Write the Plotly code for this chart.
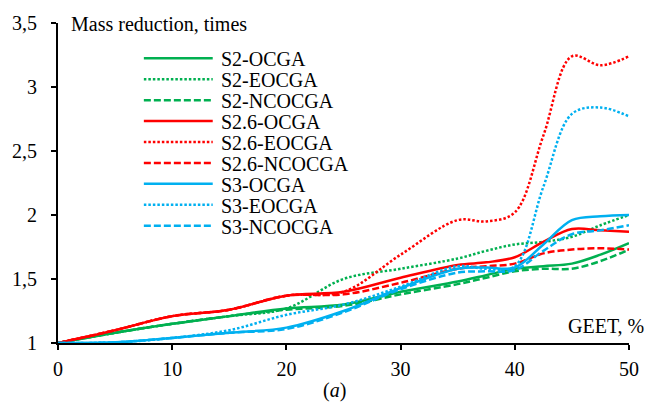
import plotly.graph_objects as go

# ---- data ----
geet = [0, 5, 10, 15, 20, 25, 30, 35, 37.5, 40, 42.5, 45, 47.5, 50]

s2_ocga     = [1.00, 1.08, 1.15, 1.21, 1.27, 1.30, 1.40, 1.48, 1.53, 1.58, 1.60, 1.62, 1.69, 1.78]
s2_eocga    = [1.00, 1.08, 1.15, 1.21, 1.27, 1.50, 1.58, 1.66, 1.72, 1.77, 1.79, 1.83, 1.92, 2.00]
s2_ncocga   = [1.00, 1.08, 1.15, 1.21, 1.26, 1.29, 1.38, 1.46, 1.51, 1.56, 1.58, 1.58, 1.64, 1.73]
s26_ocga    = [1.00, 1.10, 1.21, 1.26, 1.37, 1.40, 1.51, 1.61, 1.63, 1.67, 1.79, 1.89, 1.88, 1.87]
s26_eocga   = [1.00, 1.10, 1.21, 1.26, 1.37, 1.40, 1.69, 1.96, 1.95, 2.02, 2.62, 3.24, 3.17, 3.24]
s26_ncocga  = [1.00, 1.10, 1.21, 1.26, 1.37, 1.38, 1.47, 1.58, 1.60, 1.62, 1.70, 1.73, 1.74, 1.73]
s3_ocga     = [1.00, 1.005, 1.04, 1.08, 1.12, 1.25, 1.43, 1.58, 1.59, 1.59, 1.77, 1.96, 1.99, 2.00]
s3_eocga    = [1.00, 1.005, 1.04, 1.10, 1.22, 1.30, 1.44, 1.60, 1.58, 1.60, 2.22, 2.79, 2.84, 2.77]
s3_ncocga   = [1.00, 1.005, 1.04, 1.08, 1.11, 1.24, 1.42, 1.55, 1.56, 1.57, 1.72, 1.85, 1.88, 1.92]

names = ["S2-OCGA", "S2-EOCGA", "S2-NCOCGA",
         "S2.6-OCGA", "S2.6-EOCGA", "S2.6-NCOCGA",
         "S3-OCGA", "S3-EOCGA", "S3-NCOCGA"]
series = [s2_ocga, s2_eocga, s2_ncocga, s26_ocga, s26_eocga, s26_ncocga,
          s3_ocga, s3_eocga, s3_ncocga]

y_tickvals = [1, 1.5, 2, 2.5, 3, 3.5]
y_ticktext = ["1", "1,5", "2", "2,5", "3", "3,5"]
x_tickvals = [0, 10, 20, 30, 40, 50]

# ---- styles ----
GREEN, RED, BLUE = "#00B050", "#FF0000", "#00B0F0"
colors = [GREEN, GREEN, GREEN, RED, RED, RED, BLUE, BLUE, BLUE]
DOT = "2.5px,2px"
DASH = "7px,3px"
dashes = ["solid", DOT, DASH] * 3
FONT = "Liberation Serif"
TXT = dict(family=FONT, size=20, color="#000000")

W, H = 662, 407
L, R, T, B = 57, 33, 15.5, 64
PW = W - L - R
PH = H - T - B


def px_x(px):
    return (px - L) / PW


def px_y(py):
    return (H - B - py) / PH


fig = go.Figure()
for name, ys, c, d in zip(names, series, colors, dashes):
    fig.add_trace(go.Scatter(
        x=geet, y=ys, name=name, mode="lines",
        line=dict(color=c, width=2.5, dash=d, shape="spline", smoothing=1.0),
        showlegend=False, cliponaxis=False,
    ))

# custom legend with long line samples
for i, (name, c, d) in enumerate(zip(names, colors, dashes)):
    py = 51.7 + 21.4 * i
    fig.add_shape(type="line", xref="paper", yref="paper",
                  x0=px_x(143), x1=px_x(212), y0=px_y(py), y1=px_y(py),
                  line=dict(color=c, width=2.5, dash=d))
    fig.add_annotation(text=name, xref="paper", yref="paper",
                       x=px_x(218), y=px_y(py + 1), xanchor="left", yanchor="middle",
                       showarrow=False, font=TXT)

fig.add_annotation(text="Mass reduction, times", xref="paper", yref="paper",
                   x=px_x(68), y=px_y(17), xanchor="left", yanchor="middle",
                   showarrow=False, font=TXT)
fig.add_annotation(text="GEET, %", xref="paper", yref="paper",
                   x=px_x(646), y=px_y(326), xanchor="right", yanchor="middle",
                   showarrow=False, font=TXT)
fig.add_annotation(text="(<i>a</i>)", xref="paper", yref="paper",
                   x=px_x(334), y=px_y(392), xanchor="center", yanchor="middle",
                   showarrow=False, font=TXT)

axis_common = dict(showgrid=False, zeroline=False, showline=True, linecolor="#000000",
                   linewidth=2, ticks="outside", ticklen=5, tickwidth=2, tickcolor="#000000",
                   tickfont=TXT)

fig.update_layout(
    width=W, height=H,
    margin=dict(l=L, r=R, t=T, b=B),
    paper_bgcolor="white", plot_bgcolor="white",
    font=TXT,
    xaxis=dict(range=[0, 50], tickvals=x_tickvals, ticklabelstandoff=2, **axis_common),
    yaxis=dict(range=[1, 3.5], tickvals=y_tickvals, ticktext=y_ticktext,
               ticklabelstandoff=10, **axis_common),
)

fig.write_html("out.html")
